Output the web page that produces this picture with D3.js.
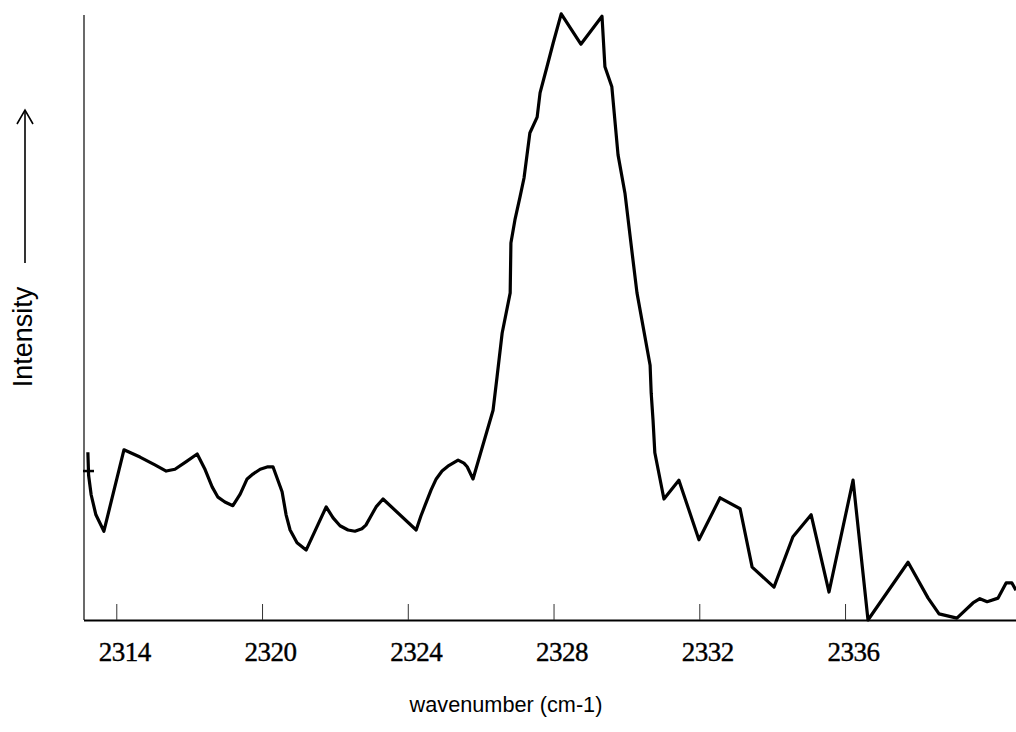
<html>
<head>
  <script src="https://d3js.org/d3.v7.min.js"></script>
  <style>
    body { margin: 0; background: #fff; }
  </style>
</head>
<body>
  <script type="text/javascript">
    // spectrum (wavenumber, intensity in arbitrary units 0-100)
    var wavenumber = [
      2315.22, 2315.24, 2315.31, 2315.44, 2315.66, 2316.21, 2316.65, 2317.06, 2317.37, 2317.61,
      2317.91, 2318.22, 2318.44, 2318.63, 2318.79, 2318.98, 2319.20, 2319.40, 2319.59, 2319.75,
      2319.95, 2320.16, 2320.30, 2320.41, 2320.55, 2320.66, 2320.77, 2320.96, 2321.21, 2321.76,
      2321.95, 2322.14, 2322.36, 2322.55, 2322.74, 2322.85, 2322.99, 2323.13, 2323.32, 2324.23,
      2324.36, 2324.47, 2324.64, 2324.78, 2324.94, 2325.10, 2325.38, 2325.54, 2325.63, 2325.79,
      2326.34, 2326.45, 2326.59, 2326.81, 2326.83, 2326.94, 2327.08, 2327.19, 2327.35, 2327.55,
      2327.63, 2327.82, 2327.99, 2328.21, 2328.75, 2329.33, 2329.41, 2329.60, 2329.77, 2329.96,
      2330.18, 2330.29, 2330.65, 2330.68, 2330.73, 2330.78, 2331.03, 2331.44, 2331.99, 2332.57,
      2333.12, 2333.45, 2334.05, 2334.57, 2335.07, 2335.56, 2336.22, 2336.63, 2337.73, 2338.28,
      2338.58, 2339.07, 2339.51, 2339.70, 2339.90, 2340.20, 2340.42, 2340.58, 2340.69
    ];
    var intensity = [
      27.6, 23.8, 20.6, 17.3, 14.6, 28.0, 26.8, 25.5, 24.5, 24.8,
      26.0, 27.3, 24.7, 21.9, 20.2, 19.4, 18.8, 20.7, 23.2, 24.0,
      24.8, 25.2, 25.2, 23.4, 21.1, 17.3, 14.8, 12.7, 11.5, 18.6,
      16.8, 15.5, 14.8, 14.6, 15.0, 15.6, 17.1, 18.6, 19.9, 14.8,
      17.1, 18.8, 21.4, 23.2, 24.5, 25.3, 26.3, 25.8, 25.2, 23.2,
      34.5, 40.0, 47.2, 53.8, 62.0, 65.8, 69.6, 72.7, 80.1, 82.7,
      86.7, 91.0, 94.9, 99.7, 94.7, 99.3, 91.0, 87.7, 76.5, 70.2,
      59.2, 53.8, 41.9, 37.3, 32.9, 27.5, 19.9, 23.0, 13.2, 20.1,
      18.3, 8.7, 5.4, 13.7, 17.3, 4.6, 23.0, 0.0, 9.5, 3.6,
      1.0, 0.3, 2.8, 3.5, 3.0, 3.6, 6.1, 6.1, 4.9
    ];

    // tick positions and the labels printed under them
    var tickPositions = [2316, 2320, 2324, 2328, 2332, 2336];
    var tickLabels = ["2314", "2320", "2324", "2328", "2332", "2336"];

    // small mark on the y axis
    var yMarkValue = 24.5;

    var width = 1016, height = 732;
    var svg = d3.select("body").append("svg")
      .attr("width", width)
      .attr("height", height);

    var x = d3.scaleLinear().domain([2315.1, 2340.7]).range([83.5, 1016.3]);
    var y = d3.scaleLinear().domain([0, 100]).range([620, 12]);

    var data = wavenumber.map(function (w, i) { return { w: w, v: intensity[i] }; });

    // y axis: plain vertical line
    svg.append("line")
      .attr("x1", 84).attr("x2", 84)
      .attr("y1", 15).attr("y2", y(0))
      .style("stroke", "#444")
      .style("stroke-width", 1.6);

    // y mark
    svg.append("line")
      .attr("x1", 83).attr("x2", 94)
      .attr("y1", y(yMarkValue)).attr("y2", y(yMarkValue))
      .style("stroke", "#000")
      .style("stroke-width", 2.5);

    // x axis with ticks pointing inside
    var xAxis = d3.axisBottom(x)
      .tickValues(tickPositions)
      .tickSizeInner(-16)
      .tickSizeOuter(0)
      .tickFormat(function (d, i) { return tickLabels[i]; });

    var gx = svg.append("g")
      .attr("transform", "translate(0," + y(0) + ")")
      .call(xAxis);

    gx.select(".domain")
      .style("stroke", "#000")
      .style("stroke-width", 2.2);
    gx.selectAll(".tick line")
      .style("stroke", "#333")
      .style("stroke-width", 1);
    gx.selectAll(".tick text")
      .attr("y", 41)
      .attr("dy", 0)
      .attr("dx", 8)
      .style("font-family", "'Liberation Serif', 'Times New Roman', serif")
      .style("font-size", "27px")
      .style("letter-spacing", "-0.5px")
      .style("fill", "#000")
      .style("stroke", "#000")
      .style("stroke-width", 0.4);

    // spectrum line
    var line = d3.line()
      .x(function (d) { return x(d.w); })
      .y(function (d) { return y(d.v); });

    svg.append("path")
      .datum(data)
      .attr("d", line)
      .style("fill", "none")
      .style("stroke", "#000")
      .style("stroke-width", 3.2)
      .style("stroke-linejoin", "round");

    // axis titles
    svg.append("text")
      .attr("x", 506)
      .attr("y", 712)
      .attr("text-anchor", "middle")
      .style("font-family", "'Liberation Sans', Arial, sans-serif")
      .style("font-size", "21.7px")
      .style("fill", "#000")
      .text("wavenumber (cm-1)");

    svg.append("text")
      .attr("transform", "translate(32,337) rotate(-90)")
      .attr("text-anchor", "middle")
      .style("font-family", "'Liberation Sans', Arial, sans-serif")
      .style("font-size", "27px")
      .style("fill", "#000")
      .text("Intensity");

    // arrow next to the Intensity label
    svg.append("line")
      .attr("x1", 25).attr("x2", 25)
      .attr("y1", 263).attr("y2", 111)
      .style("stroke", "#000")
      .style("stroke-width", 1.6);
    svg.append("path")
      .attr("d", "M17,124 L25,110 L33,124")
      .style("fill", "none")
      .style("stroke", "#000")
      .style("stroke-width", 1.6);
  </script>
</body>
</html>
